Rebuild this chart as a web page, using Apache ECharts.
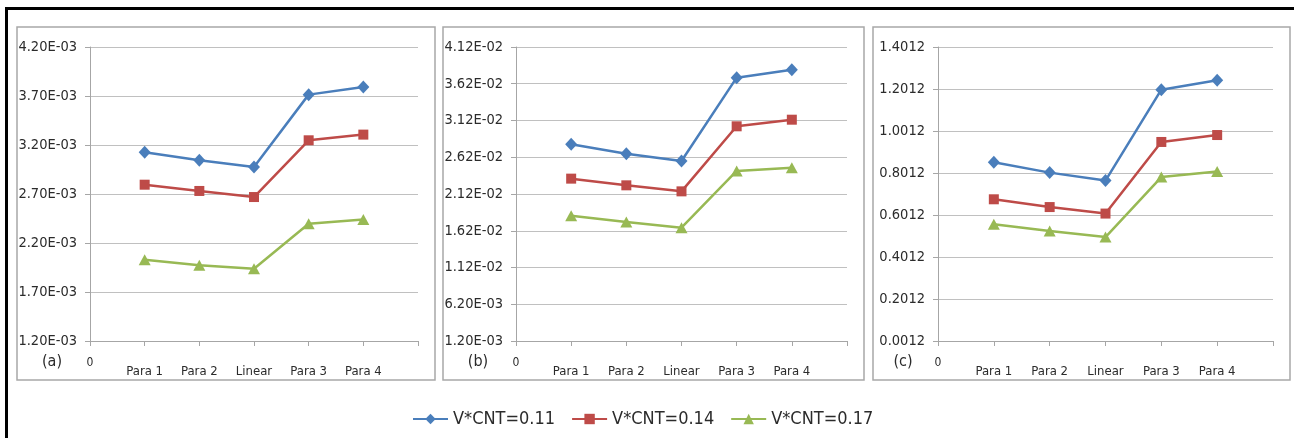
<!DOCTYPE html>
<html>
<head>
<meta charset="utf-8">
<script src="https://cdn.jsdelivr.net/npm/echarts@6/dist/echarts.min.js"></script>
<style>
  html, body { margin: 0; padding: 0; background: #ffffff; }
  #chart { width: 1294px; height: 438px; }
</style>
</head>
<body>
<div id="chart"></div>
<script>
// Category axis: slot 0 carries the "0" origin label, the last slot is empty.
const categories = ['0', 'Para 1', 'Para 2', 'Linear', 'Para 3', 'Para 4', ''];
const seriesNames = ['V*CNT=0.11', 'V*CNT=0.14', 'V*CNT=0.17'];
const panelLabels = ['(a)', '(b)', '(c)'];

// Panel (a)
const panelA_011 = [3.125e-3, 3.044e-3, 2.976e-3, 3.714e-3, 3.792e-3];
const panelA_014 = [2.795e-3, 2.731e-3, 2.669e-3, 3.248e-3, 3.306e-3];
const panelA_017 = [2.030e-3, 1.972e-3, 1.938e-3, 2.397e-3, 2.441e-3];
const panelA_ticks = [1.2e-3, 1.7e-3, 2.2e-3, 2.7e-3, 3.2e-3, 3.7e-3, 4.2e-3];

// Panel (b)
const panelB_011 = [2.796e-2, 2.669e-2, 2.569e-2, 3.703e-2, 3.812e-2];
const panelB_014 = [2.329e-2, 2.238e-2, 2.156e-2, 3.041e-2, 3.131e-2];
const panelB_017 = [1.825e-2, 1.739e-2, 1.662e-2, 2.433e-2, 2.478e-2];
const panelB_ticks = [1.2e-3, 6.2e-3, 1.12e-2, 1.62e-2, 2.12e-2, 2.62e-2, 3.12e-2, 3.62e-2, 4.12e-2];

// Panel (c)
const panelC_011 = [0.852, 0.803, 0.765, 1.198, 1.243];
const panelC_014 = [0.676, 0.639, 0.608, 0.949, 0.982];
const panelC_017 = [0.557, 0.525, 0.496, 0.782, 0.808];
const panelC_ticks = [0.0012, 0.2012, 0.4012, 0.6012, 0.8012, 1.0012, 1.2012, 1.4012];

const colors = ['#4a7ebb', '#be4b48', '#98b954'];
const symbols = ['diamond', 'rect', 'triangle'];
const symbolSizes = [[12, 13], 10, [12, 11]];

const FONT = "'Liberation Sans Narrow', 'DejaVu Sans Condensed', 'Liberation Sans', sans-serif";
const TEXT = '#2b2b2b';

function sciLabel(v) {
  return v.toExponential(2).replace(/e([+-])(\d)$/, 'E$10$2').toUpperCase();
}
function fixedLabel(v) {
  return v.toFixed(4);
}

const panels = [
  { values: [panelA_011, panelA_014, panelA_017], ticks: panelA_ticks, fmt: sciLabel,
    grid: { left: 90, top: 47, width: 328, height: 294 }, labelX: 52 },
  { values: [panelB_011, panelB_014, panelB_017], ticks: panelB_ticks, fmt: sciLabel,
    grid: { left: 516, top: 47, width: 331, height: 294 }, labelX: 478 },
  { values: [panelC_011, panelC_014, panelC_017], ticks: panelC_ticks, fmt: fixedLabel,
    grid: { left: 938, top: 47, width: 335, height: 294 }, labelX: 903 }
];

const grid = [], xAxis = [], yAxis = [], series = [];
panels.forEach((p, gi) => {
  grid.push(p.grid);
  xAxis.push({
    type: 'category',
    gridIndex: gi,
    data: categories,
    boundaryGap: false,
    axisLine: { lineStyle: { color: '#a6a6a6', width: 1 } },
    axisTick: { show: true, length: 5, lineStyle: { color: '#a6a6a6' } },
    splitLine: { show: false },
    axisLabel: {
      interval: 0,
      margin: 17,
      fontFamily: FONT,
      fontSize: 13,
      color: TEXT,
      lineHeight: 9,
      formatter: v => (v === '0' ? '{z|0}' : '\n' + v),
      rich: { z: { fontFamily: FONT, fontSize: 12, color: TEXT, lineHeight: 9 } }
    }
  });
  const ticks = p.ticks;
  yAxis.push({
    type: 'value',
    gridIndex: gi,
    min: ticks[0],
    max: ticks[ticks.length - 1],
    axisLine: { show: true, lineStyle: { color: '#a6a6a6', width: 1 } },
    axisTick: { show: true, length: 5, lineStyle: { color: '#a6a6a6' }, customValues: ticks },
    splitLine: { show: true, lineStyle: { color: '#c0c0c0', width: 1 } },
    axisLabel: {
      margin: 13,
      fontFamily: FONT,
      fontSize: 14.5,
      color: TEXT,
      customValues: ticks,
      formatter: p.fmt
    }
  });
  p.values.forEach((vals, si) => {
    series.push({
      type: 'line',
      name: seriesNames[si],
      xAxisIndex: gi,
      yAxisIndex: gi,
      data: vals.map((v, i) => [i + 1, v]),
      symbol: symbols[si],
      symbolSize: symbolSizes[si],
      lineStyle: { color: colors[si], width: 2.5 },
      itemStyle: { color: colors[si] },
      color: colors[si],
      z: 3 + (2 - si)
    });
  });
});

const graphic = [
  // outer frame (left and top edges)
  { type: 'line', shape: { x1: 6.5, y1: 7, x2: 6.5, y2: 438 }, style: { stroke: '#000', lineWidth: 3 }, silent: true },
  { type: 'line', shape: { x1: 5, y1: 8.5, x2: 1294, y2: 8.5 }, style: { stroke: '#000', lineWidth: 3 }, silent: true },
  // panel borders
  { type: 'rect', shape: { x: 17, y: 27, width: 418, height: 353 }, style: { fill: 'none', stroke: '#a8a8a8', lineWidth: 1.5 }, silent: true },
  { type: 'rect', shape: { x: 443, y: 27, width: 421, height: 353 }, style: { fill: 'none', stroke: '#a8a8a8', lineWidth: 1.5 }, silent: true },
  { type: 'rect', shape: { x: 873, y: 27, width: 417, height: 353 }, style: { fill: 'none', stroke: '#a8a8a8', lineWidth: 1.5 }, silent: true }
];
panels.forEach((p, gi) => {
  graphic.push({
    type: 'text', x: p.labelX, y: 362, silent: true,
    style: { text: panelLabels[gi], fontFamily: FONT, fontSize: 16, fill: TEXT, align: 'center', verticalAlign: 'middle' }
  });
});

const chart = echarts.init(document.getElementById('chart'), null, { renderer: 'canvas' });
chart.setOption({
  animation: false,
  backgroundColor: '#ffffff',
  grid, xAxis, yAxis, series, graphic,
  legend: {
    data: seriesNames,
    left: 407,
    top: 405,
    itemWidth: 35,
    itemHeight: 13,
    itemGap: 16,
    textStyle: { fontFamily: FONT, fontSize: 18, color: TEXT }
  }
});
</script>
</body>
</html>
